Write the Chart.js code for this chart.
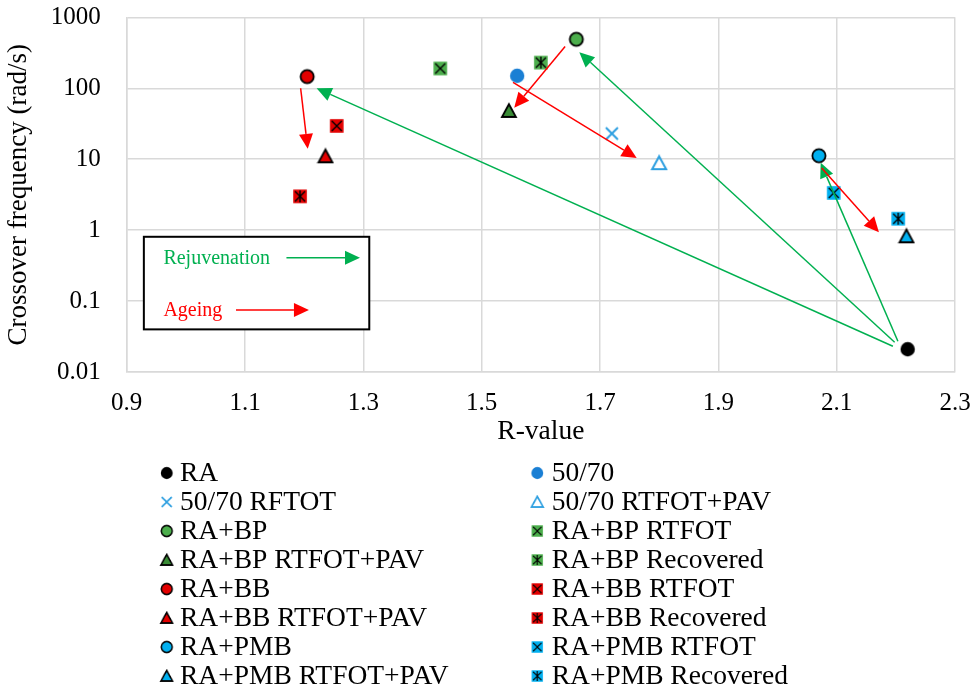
<!DOCTYPE html>
<html>
<head>
<meta charset="utf-8">
<script src="https://cdn.jsdelivr.net/npm/chart.js@4.4.1/dist/chart.umd.min.js"></script>
<style>
  html, body { margin: 0; padding: 0; background: #ffffff; }
  #wrap { width: 977px; height: 695px; }
</style>
</head>
<body>
<div id="wrap"><canvas id="chart" width="977" height="695"></canvas></div>
<script>
// ---- data ----
const seriesNames = [
  'RA', '50/70',
  '50/70 RFTOT', '50/70 RTFOT+PAV',
  'RA+BP', 'RA+BP RTFOT',
  'RA+BP RTFOT+PAV', 'RA+BP Recovered',
  'RA+BB', 'RA+BB RTFOT',
  'RA+BB RTFOT+PAV', 'RA+BB Recovered',
  'RA+PMB', 'RA+PMB RTFOT',
  'RA+PMB RTFOT+PAV', 'RA+PMB Recovered'
];
// R-value of each binder
const rValues = [
  2.22, 1.56,
  1.72, 1.80,
  1.66, 1.43,
  1.546, 1.60,
  1.205, 1.255,
  1.236, 1.193,
  2.07, 2.095,
  2.218, 2.204
];
// crossover frequency, rad/s
const crossoverFreq = [
  0.021, 150,
  23, 8.8,
  490, 190,
  48, 230,
  146, 29.5,
  11, 3.0,
  11.2, 3.35,
  0.82, 1.45
];
const xTickValues = [0.9, 1.1, 1.3, 1.5, 1.7, 1.9, 2.1, 2.3];
const xTickLabels = ['0.9', '1.1', '1.3', '1.5', '1.7', '1.9', '2.1', '2.3'];
const yTickValues = [0.01, 0.1, 1, 10, 100, 1000];
const yTickLabels = ['0.01', '0.1', '1', '10', '100', '1000'];

// rejuvenation arrows (green): [R, frequency] start -> tip
const rejuvenationFrom = [[2.195, 0.0231], [2.198, 0.0264], [2.2035, 0.0272]];
const rejuvenationTo   = [[1.221, 100],    [1.665, 323],    [2.073, 8.9]];
// ageing arrows (red)
const ageingFrom = [[1.194, 100], [1.641, 387], [1.553, 121], [2.0746, 7.55]];
const ageingTo   = [[1.206, 14],  [1.555, 53],  [1.762, 10.4], [2.1714, 0.937]];

// ---- marker images ----
const GREEN = '#4cae4c', DKGREEN = '#3a8c36', RED = '#e30000', CYAN = '#00b0f0';
const BLUE = '#1a7fd4', LTBLUE = '#2d9fe0';

function makeMarker(shape, fill, stroke, inner) {
  const S = 18, m = S / 2;
  const c = document.createElement('canvas');
  c.width = S; c.height = S;
  const g = c.getContext('2d');
  g.lineJoin = 'miter';
  if (shape === 'circle') {
    g.beginPath(); g.arc(m, m, stroke ? 6.6 : 7.2, 0, Math.PI * 2);
    g.fillStyle = fill; g.fill();
    if (stroke) { g.lineWidth = 1.8; g.strokeStyle = stroke; g.stroke(); }
  } else if (shape === 'triangle') {
    g.beginPath();
    g.moveTo(m, m - 6.8); g.lineTo(m + 7, m + 6); g.lineTo(m - 7, m + 6); g.closePath();
    if (fill) { g.fillStyle = fill; g.fill(); }
    g.lineWidth = fill ? 1.8 : 2; g.strokeStyle = stroke; g.stroke();
  } else if (shape === 'cross') {
    g.beginPath();
    g.moveTo(m - 6, m - 6); g.lineTo(m + 6, m + 6);
    g.moveTo(m + 6, m - 6); g.lineTo(m - 6, m + 6);
    g.lineWidth = 2; g.strokeStyle = stroke; g.stroke();
  } else if (shape === 'square') {
    g.fillStyle = fill; g.fillRect(m - 6.8, m - 6.8, 13.6, 13.6);
    g.beginPath();
    g.moveTo(m - 5, m - 5); g.lineTo(m + 5, m + 5);
    g.moveTo(m + 5, m - 5); g.lineTo(m - 5, m + 5);
    if (inner === 'star') { g.moveTo(m, m - 6); g.lineTo(m, m + 6); }
    g.lineWidth = 1.4; g.strokeStyle = '#000'; g.stroke();
  }
  return c;
}

const markers = [
  makeMarker('circle', '#000', null),
  makeMarker('circle', BLUE, null),
  makeMarker('cross', null, LTBLUE),
  makeMarker('triangle', null, LTBLUE),
  makeMarker('circle', GREEN, '#000'),
  makeMarker('square', GREEN, null, 'x'),
  makeMarker('triangle', DKGREEN, '#000'),
  makeMarker('square', GREEN, null, 'star'),
  makeMarker('circle', RED, '#000'),
  makeMarker('square', RED, null, 'x'),
  makeMarker('triangle', RED, '#000'),
  makeMarker('square', RED, null, 'star'),
  makeMarker('circle', CYAN, '#000'),
  makeMarker('square', CYAN, null, 'x'),
  makeMarker('triangle', CYAN, '#000'),
  makeMarker('square', CYAN, null, 'star')
];

const FONT = "'Liberation Serif', 'Times New Roman', serif";

function drawArrow(ctx, x1, y1, x2, y2, color) {
  const ang = Math.atan2(y2 - y1, x2 - x1);
  const L = 15, W = 7;
  const bx = x2 - L * Math.cos(ang), by = y2 - L * Math.sin(ang);
  ctx.save();
  ctx.strokeStyle = color; ctx.lineWidth = 1.5;
  ctx.beginPath(); ctx.moveTo(x1, y1); ctx.lineTo(bx, by); ctx.stroke();
  ctx.fillStyle = color;
  ctx.beginPath();
  ctx.moveTo(x2, y2);
  ctx.lineTo(bx + W * Math.sin(ang), by - W * Math.cos(ang));
  ctx.lineTo(bx - W * Math.sin(ang), by + W * Math.cos(ang));
  ctx.closePath(); ctx.fill();
  ctx.restore();
}

// arrows between binder states plus the key box inside the plot
const arrowPlugin = {
  id: 'arrows',
  afterDatasetsDraw(chart) {
    const { ctx, scales: { x, y } } = chart;
    const px = v => x.getPixelForValue(v), py = v => y.getPixelForValue(v);
    rejuvenationFrom.forEach((s, i) => {
      const e = rejuvenationTo[i];
      drawArrow(ctx, px(s[0]), py(s[1]), px(e[0]), py(e[1]), '#00b050');
    });
    ageingFrom.forEach((s, i) => {
      const e = ageingTo[i];
      drawArrow(ctx, px(s[0]), py(s[1]), px(e[0]), py(e[1]), '#ff0000');
    });

    // key box
    const bl = px(0.929), br = px(1.31), bt = py(0.807), bb = py(0.040);
    ctx.save();
    ctx.fillStyle = '#fff';
    ctx.fillRect(bl, bt, br - bl, bb - bt);
    ctx.lineWidth = 2; ctx.strokeStyle = '#000';
    ctx.strokeRect(bl, bt, br - bl, bb - bt);
    ctx.font = '20px ' + FONT;
    ctx.textBaseline = 'middle'; ctx.textAlign = 'left';
    ctx.fillStyle = '#00b050';
    ctx.fillText('Rejuvenation', px(0.962), py(0.40));
    ctx.fillStyle = '#ff0000';
    ctx.fillText('Ageing', px(0.962), py(0.073));
    ctx.restore();
    drawArrow(ctx, px(1.170), py(0.409), px(1.2943), py(0.409), '#00b050');
    drawArrow(ctx, px(1.0847), py(0.075), px(1.208), py(0.075), '#ff0000');
  }
};

// two-column key of series below the axes
const seriesKeyPlugin = {
  id: 'seriesKey',
  afterDraw(chart) {
    const ctx = chart.ctx;
    const colMarker = [166.7, 537.3], colText = [180, 551.7];
    ctx.save();
    ctx.font = '27.5px ' + FONT;
    ctx.fillStyle = '#000';
    ctx.textBaseline = 'middle'; ctx.textAlign = 'left';
    chart.data.datasets.forEach((ds, i) => {
      const row = Math.floor(i / 2), col = i % 2;
      const yc = 473 + row * 29;
      const img = ds.pointStyle;
      const s = 15;
      ctx.drawImage(img, colMarker[col] - s / 2, yc - s / 2, s, s);
      ctx.fillText(ds.label, colText[col], yc + 1);
    });
    ctx.restore();
  }
};

const datasets = seriesNames.map((name, i) => ({
  label: name,
  data: [{ x: rValues[i], y: crossoverFreq[i] }],
  pointStyle: markers[i],
  pointRadius: 9,
  pointHoverRadius: 9,
  showLine: false
}));

function noOverhang(s) {
  s.paddingTop = 0; s.paddingBottom = 0; s.paddingLeft = 0; s.paddingRight = 0;
}

new Chart(document.getElementById('chart'), {
  type: 'scatter',
  data: { datasets },
  options: {
    responsive: false,
    animation: false,
    events: [],
    layout: { padding: { left: 0, right: 22, top: 17.3, bottom: 246.4 } },
    plugins: { legend: { display: false }, tooltip: { enabled: false } },
    scales: {
      x: {
        type: 'linear', min: 0.9, max: 2.3,
        afterBuildTicks: s => { s.ticks = xTickValues.map(v => ({ value: v })); },
        afterFit: s => { s.height = 76.5; noOverhang(s); },
        ticks: {
          callback: (v, i) => xTickLabels[i],
          color: '#000', font: { family: FONT, size: 25 }, padding: 16.5, maxRotation: 0
        },
        grid: { color: '#d9d9d9', lineWidth: 1.5, drawTicks: false },
        border: { color: '#d9d9d9', width: 1.5 },
        title: { display: true, text: 'R-value', color: '#000', font: { family: FONT, size: 27.5 }, padding: 0 }
      },
      y: {
        type: 'logarithmic', min: 0.01, max: 1000,
        afterBuildTicks: s => { s.ticks = yTickValues.map(v => ({ value: v })); },
        afterFit: s => { s.width = 126.7; noOverhang(s); },
        ticks: {
          callback: (v, i) => yTickLabels[i],
          color: '#000', font: { family: FONT, size: 25 }, padding: 26
        },
        grid: { color: '#d9d9d9', lineWidth: 1.5, drawTicks: false },
        border: { color: '#d9d9d9', width: 1.5 },
        title: { display: true, text: 'Crossover frequency (rad/s)', color: '#000', font: { family: FONT, size: 27 }, padding: { top: 3, bottom: 0 } }
      }
    }
  },
  plugins: [arrowPlugin, seriesKeyPlugin]
});
</script>
</body>
</html>
